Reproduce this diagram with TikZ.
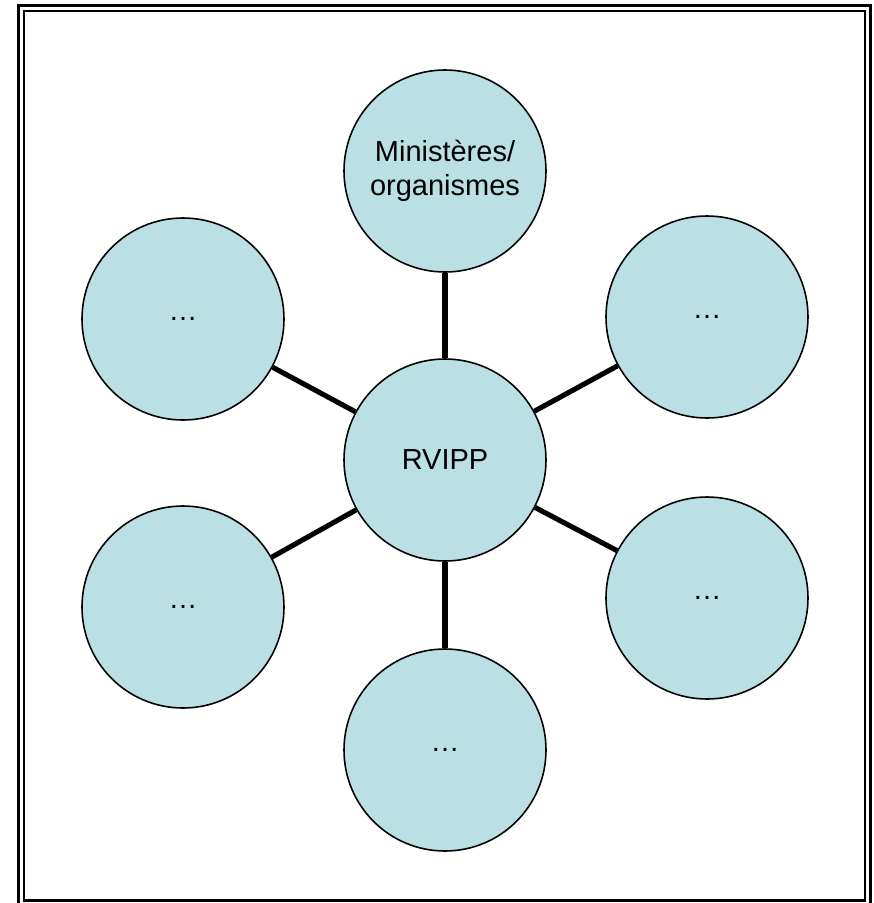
\documentclass[tikz,border=0pt]{standalone}
\usepackage{fontspec}
\setmainfont{Liberation Sans}
\usetikzlibrary{positioning}
\definecolor{azzurro}{RGB}{187,224,227}

\begin{document}
\begin{tikzpicture}[
  x=0.02cm, y=-0.02cm,
  font=\fontsize{16.5}{19.5}\selectfont,
  cerchio/.style={circle, draw=black, line width=0.9pt, fill=azzurro,
                  minimum size=202*0.02cm, inner sep=0pt, align=center},
  raggio/.style={draw=black, line width=2.9pt},
  cornice/.style={draw=black, line width=1.2pt}
]
\useasboundingbox (0,0) rectangle (874,903);

% doppia cornice
\draw[cornice] (18.5,5.5) rectangle (870.5,906);
\draw[cornice] (24,11) rectangle (865,900.5);

\node[cerchio] (centro)  at (445,460) {RVIPP};
\node[cerchio] (alto)    at (445,171) {Ministères/\\organismes};
\node[cerchio] (sxalto)  at (183,319) {\dots};
\node[cerchio] (dxalto)  at (707,317) {\dots};
\node[cerchio] (sxbasso) at (183,607) {\dots};
\node[cerchio] (dxbasso) at (707,598) {\dots};
\node[cerchio] (basso)   at (445,750) {\dots};

\foreach \n in {alto, sxalto, dxalto, sxbasso, dxbasso, basso}
  \draw[raggio] (centro) -- (\n);

\end{tikzpicture}
\end{document}
